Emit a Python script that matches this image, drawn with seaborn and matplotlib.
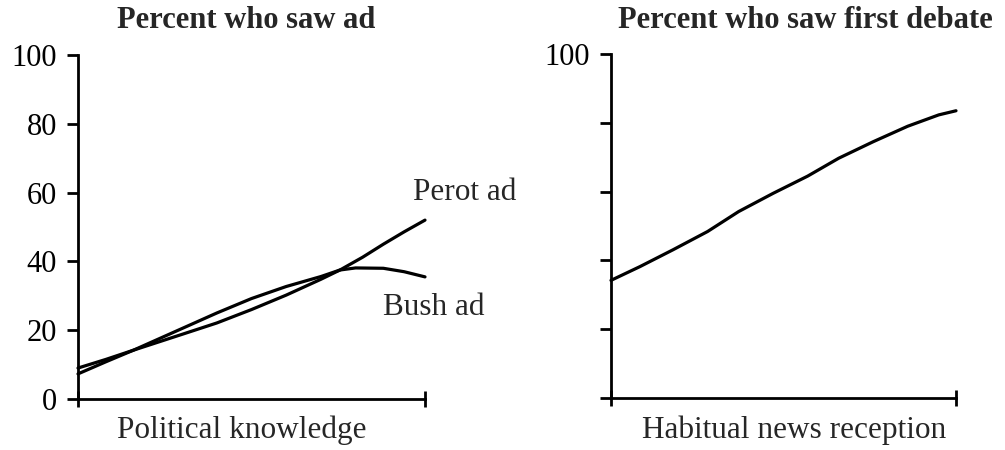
import matplotlib
matplotlib.use("Agg")
import matplotlib.pyplot as plt
import seaborn as sns
import pandas as pd

# Left panel: Percent who saw ad vs political knowledge (normalized 0..1)
perot_x = [0, 0.08, 0.16, 0.30, 0.40, 0.50, 0.60, 0.70, 0.755, 0.82, 0.88, 0.94, 1.0]
perot_y = [9.0, 11.5, 14.2, 18.8, 22.1, 26.0, 30.2, 34.8, 37.5, 41.2, 45.0, 48.6, 52.0]
bush_x = [0, 0.08, 0.16, 0.30, 0.40, 0.50, 0.60, 0.70, 0.755, 0.80, 0.88, 0.94, 1.0]
bush_y = [7.3, 10.8, 14.2, 20.5, 25.0, 29.2, 32.7, 35.6, 37.5, 38.1, 38.0, 37.0, 35.5]

# Right panel: Percent who saw first debate vs habitual news reception
debate_x = [0, 0.084, 0.18, 0.28, 0.37, 0.47, 0.57, 0.66, 0.76, 0.86, 0.95, 1.0]
debate_y = [34.2, 38.2, 43.1, 48.4, 54.2, 59.5, 64.5, 69.7, 74.5, 79.0, 82.3, 83.5]

left_yticks = [0, 20, 40, 60, 80, 100]
left_yticklabels = ["0", "20", "40", "60", "80", "100"]
right_yticklabels = ["", "", "", "", "", "100"]

sns.set_style("ticks")
plt.rcParams["font.family"] = ["Liberation Serif", "DejaVu Serif"]

fig = plt.figure(figsize=(10.05, 4.5), dpi=100)
W, H = 1005, 450
axL = fig.add_axes([78 / W, 1 - 399 / H, 347 / W, 344 / H])
axR = fig.add_axes([611 / W, 1 - 398 / H, 345 / W, 344 / H])

ad_df = pd.concat([
    pd.DataFrame({"x": perot_x, "y": perot_y, "ad": "Perot ad"}),
    pd.DataFrame({"x": bush_x, "y": bush_y, "ad": "Bush ad"}),
])
sns.lineplot(data=ad_df, x="x", y="y", units="ad", estimator=None,
             color="black", lw=2.3, ax=axL, sort=True)
deb_df = pd.DataFrame({"x": debate_x, "y": debate_y})
sns.lineplot(data=deb_df, x="x", y="y", color="black", lw=2.3, ax=axR)

for ax, labels in [(axL, left_yticklabels), (axR, right_yticklabels)]:
    ax.set_xlim(0, 1)
    ax.set_ylim(0, 100)
    ax.set_yticks(left_yticks)
    ax.set_yticklabels(labels)
    ax.set_xticks([0, 1])
    ax.set_xticklabels(["", ""])
    ax.set_xlabel("")
    ax.set_ylabel("")
    for s in ["top", "right"]:
        ax.spines[s].set_visible(False)
    for s in ["left", "bottom"]:
        ax.spines[s].set_linewidth(2.0)
        ax.spines[s].set_color("black")
    ax.tick_params(axis="y", direction="out", length=8, width=2, labelsize=22,
                   colors="black", pad=7)
    ax.tick_params(axis="x", direction="inout", length=12, width=2, colors="black")
    for ln in ax.lines:
        ln.set_clip_on(False)

fig.text(246 / W, 1 - 20 / H, "Percent who saw ad", ha="center", va="center",
         fontsize=22, fontweight="bold")
fig.text(805 / W, 1 - 20 / H, "Percent who saw first debate", ha="center",
         va="center", fontsize=22, fontweight="bold")
fig.text(242 / W, 1 - 430 / H, "Political knowledge", ha="center", va="center",
         fontsize=22.5)
fig.text(794 / W, 1 - 430 / H, "Habitual news reception", ha="center",
         va="center", fontsize=22.5)
fig.text(413 / W, 1 - 200 / H, "Perot ad", ha="left", va="baseline", fontsize=22.5)
fig.text(383 / W, 1 - 315 / H, "Bush ad", ha="left", va="baseline", fontsize=22.5)

fig.savefig("out.png", dpi=100)
